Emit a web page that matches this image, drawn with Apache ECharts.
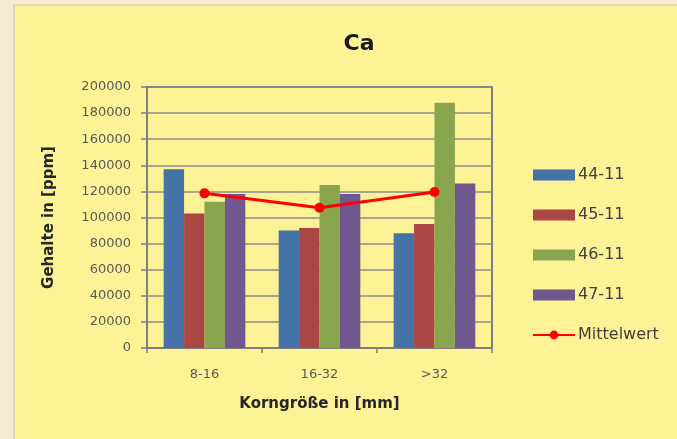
<!DOCTYPE html>
<html>
<head>
<meta charset="utf-8">
<script src="https://cdn.jsdelivr.net/npm/echarts@6/dist/echarts.min.js"></script>
<style>
    html, body { margin: 0; padding: 0; background: #f4ebd2; }
    #main { width: 677px; height: 439px; }
</style>
</head>
<body>
<div id="main"></div>
<script>
var categories = ['8-16', '16-32', '>32'];
var seriesNames = ['44-11', '45-11', '46-11', '47-11'];
var s4411 = [137000, 90000, 88000];
var s4511 = [103000, 92000, 95000];
var s4611 = [112000, 125000, 188000];
var s4711 = [118000, 118000, 126000];
var mittelwert = [118500, 107500, 119500];
var barColors = ['#4572A7', '#AA4643', '#89A54E', '#71588F'];

var font = 'DejaVu Sans';
var chart = echarts.init(document.getElementById('main'), null, { renderer: 'canvas' });

var barData = [s4411, s4511, s4611, s4711];
var series = [];
var legendData = [];
for (var i = 0; i < barData.length; i++) {
    series.push({
        name: seriesNames[i],
        type: 'bar',
        data: barData[i],
        barGap: '0%',
        barCategoryGap: '29%',
        itemStyle: { color: barColors[i] }
    });
    legendData.push({ name: seriesNames[i], icon: 'rect' });
}
series.push({
    name: 'Mittelwert',
    type: 'line',
    data: mittelwert,
    z: 5,
    symbol: 'circle',
    symbolSize: 10,
    lineStyle: { color: '#ff0000', width: 3 },
    itemStyle: { color: '#ff0000' }
});
legendData.push({ name: 'Mittelwert' });

chart.setOption({
    backgroundColor: '#f4ebd2',
    animation: false,
    graphic: [{
        type: 'rect',
        shape: { x: 14, y: 5, width: 680, height: 450 },
        style: { fill: '#fdf396', stroke: '#e2dab6', lineWidth: 2 },
        z: -10
    }],
    title: {
        text: 'Ca',
        left: 354,
        top: 28,
        textAlign: 'center',
        textStyle: { fontFamily: font, fontSize: 22, fontWeight: 'bold', color: '#1a1a1a' }
    },
    legend: {
        orient: 'vertical',
        left: 527,
        top: 162,
        itemWidth: 42,
        itemHeight: 11,
        itemGap: 24,
        data: legendData,
        textStyle: { fontFamily: font, fontSize: 16, lineHeight: 16, color: '#404040', padding: [0, 0, 0, -2] }
    },
    grid: {
        left: 147,
        right: 185,
        top: 87,
        bottom: 91,
        show: true,
        borderColor: '#7f7f7f',
        borderWidth: 2,
        backgroundColor: 'transparent'
    },
    xAxis: {
        type: 'category',
        data: categories,
        name: 'Korngröße in [mm]',
        nameLocation: 'middle',
        nameGap: 49,
        nameTextStyle: { fontFamily: font, fontSize: 15, fontWeight: 'bold', color: '#262626' },
        axisLine: { lineStyle: { color: '#7f7f7f', width: 2 } },
        axisTick: { show: true, length: 5, lineStyle: { color: '#7f7f7f', width: 1.5 } },
        axisLabel: { margin: 20, fontFamily: font, fontSize: 13, color: '#595959' }
    },
    yAxis: {
        type: 'value',
        min: 0,
        max: 200000,
        interval: 20000,
        name: 'Gehalte in [ppm]',
        nameLocation: 'middle',
        nameGap: 90,
        nameRotate: 90,
        nameTextStyle: { fontFamily: font, fontSize: 15, fontWeight: 'bold', color: '#262626' },
        axisLine: { show: true, lineStyle: { color: '#7f7f7f', width: 2 } },
        axisTick: { show: true, length: 6, lineStyle: { color: '#7f7f7f', width: 1.5 } },
        axisLabel: {
            margin: 16,
            fontFamily: font,
            fontSize: 13,
            color: '#595959',
            formatter: function (v) { return String(v); }
        },
        splitLine: { lineStyle: { color: '#8c8c8c', width: 1.5 } }
    },
    series: series
});
</script>
</body>
</html>
